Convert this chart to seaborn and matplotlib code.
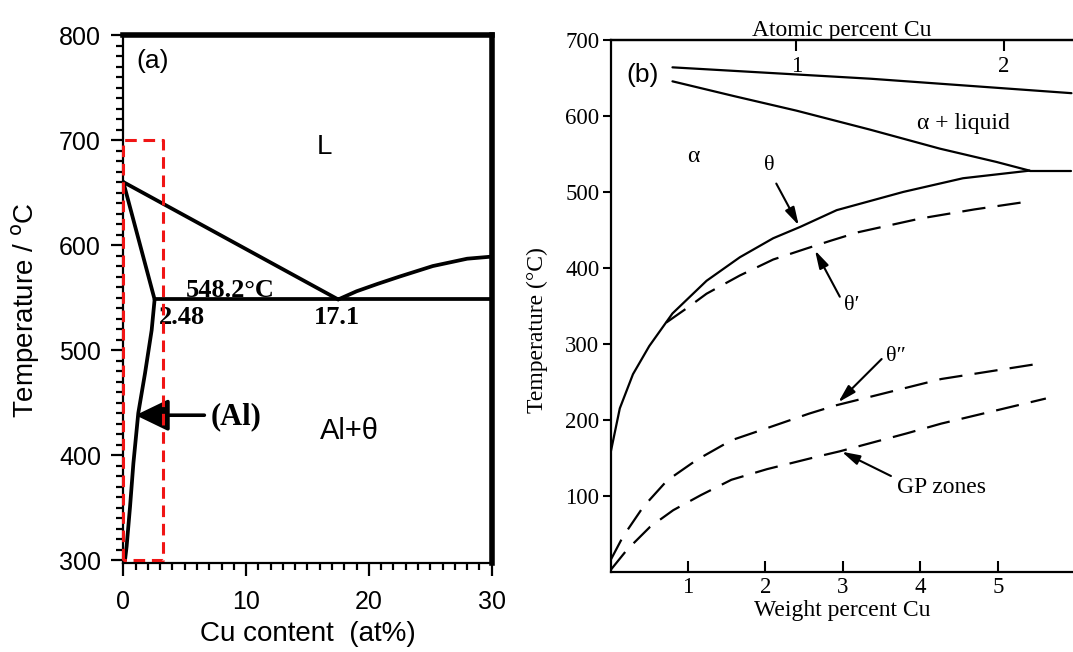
import matplotlib
matplotlib.use("Agg")
import matplotlib.pyplot as plt
import seaborn as sns
from matplotlib.ticker import MultipleLocator

# ---------------- Panel (a): Al-Cu phase diagram (at% Cu, deg C) ----------------
a_liq1_x = [0.0, 17.5]
a_liq1_y = [660.0, 548.2]
a_liq2_x = [17.5, 19.0, 20.7, 22.5, 25.2, 28.0, 30.0]
a_liq2_y = [548.2, 556, 563, 570, 580, 587, 589]
a_solidus_x = [0.0, 2.55]
a_solidus_y = [660.0, 548.2]
a_solvus_x = [2.55, 2.31, 1.77, 1.22, 0.82, 0.55, 0.27, 0.14]
a_solvus_y = [548.2, 519, 478, 440, 392, 351, 313, 300]
a_eut_x = [2.55, 30.0]
a_eut_y = [548.2, 548.2]
a_box_x = [0.0, 0.0, 3.25, 3.25, 0.0]
a_box_y = [300, 700, 700, 300, 300]
a_xticks = [0, 10, 20, 30]
a_yticks = [300, 400, 500, 600, 700, 800]

# ---------------- Panel (b): metastable solvus lines (wt% Cu, deg C) ----------------
b_liq_x = [0.8, 3.36, 5.95]
b_liq_y = [664, 649, 630]
b_sol_x = [0.8, 1.6, 2.40, 3.35, 4.25, 4.98, 5.41]
b_sol_y = [645.6, 626, 607, 582, 557, 539.5, 528]
b_eut_x = [5.41, 5.95]
b_eut_y = [528, 528]
b_theta_x = [0.0, 0.12, 0.29, 0.5, 0.8, 1.24, 1.67, 2.10, 2.45, 2.92, 3.78, 4.55, 5.41]
b_theta_y = [156, 215, 260, 297, 340, 383, 414, 439, 454, 476, 500, 518, 528]
b_thp_x = [0.72, 1.0, 1.24, 1.67, 2.10, 2.53, 2.85, 3.2, 4.0, 4.7, 5.37]
b_thp_y = [328, 348, 366, 390, 411, 425.5, 436, 447, 465, 477, 487]
b_thpp_x = [0.0, 0.16, 0.42, 0.73, 1.11, 1.56, 2.02, 2.56, 2.91, 3.37, 4.27, 5.57]
b_thpp_y = [15, 46, 85, 120, 147, 173, 189, 208, 219, 230.7, 253.7, 274.5]
b_gp_x = [0.0, 0.21, 0.51, 0.81, 1.17, 1.56, 2.02, 2.69, 2.96, 3.82, 4.27, 4.72, 5.62]
b_gp_y = [2, 28.5, 59, 81, 101, 121, 135, 152, 158.5, 182, 195, 206, 228]
b_xticks = [1, 2, 3, 4, 5]
b_yticks = [100, 200, 300, 400, 500, 600, 700]
b_top_pos = [2.40, 5.08]
b_top_labels = ["1", "2"]

sns.set_theme(style="ticks")
plt.rcParams["font.family"] = ["Liberation Sans", "DejaVu Sans"]
plt.rcParams.update({"text.color": "black", "axes.labelcolor": "black",
                     "xtick.color": "black", "ytick.color": "black",
                     "axes.edgecolor": "black"})
SERIF = ["Liberation Serif", "DejaVu Serif"]
SANS = ["Liberation Sans", "DejaVu Sans"]

fig = plt.figure(figsize=(10.73, 6.52), dpi=100)
fig.patch.set_facecolor("white")
axA = fig.add_axes([123.3 / 1073, (652 - 563.3) / 652, 368.4 / 1073, 528.3 / 652])
axB = fig.add_axes([610.5 / 1073, (652 - 571.7) / 652, 462.5 / 1073, 531.7 / 652])
for ax in (axA, axB):
    ax.set_facecolor("white")


def draw(ax, xs, ys, lw, color="black", dashes=None):
    sns.lineplot(x=xs, y=ys, ax=ax, color=color, lw=lw, sort=False,
                 estimator=None, errorbar=None)
    ln = ax.lines[-1]
    ln.set_solid_joinstyle("round")
    if dashes is not None:
        ln.set_dashes(dashes)
    return ln


# ---------- Panel (a) ----------
LWA = 2.7
draw(axA, a_liq1_x, a_liq1_y, LWA)
draw(axA, a_liq2_x, a_liq2_y, LWA)
draw(axA, a_solidus_x, a_solidus_y, LWA)
draw(axA, a_solvus_x, a_solvus_y, LWA)
draw(axA, a_eut_x, a_eut_y, LWA)
box = draw(axA, a_box_x, a_box_y, 2.2, color="#f01515", dashes=(3.8, 2.2))
box.set_clip_on(False)
box.set_zorder(5)

axA.set_xlim(0, 30)
axA.set_ylim(297, 800)
axA.set_xticks(a_xticks)
axA.set_yticks(a_yticks)
axA.xaxis.set_minor_locator(MultipleLocator(1))
axA.yaxis.set_minor_locator(MultipleLocator(10))
axA.tick_params(axis="both", which="major", direction="out", length=9, width=1.6,
                colors="black", labelsize=18, labelcolor="black")
axA.tick_params(axis="both", which="minor", direction="out", length=5, width=1.6,
                colors="black")
axA.tick_params(axis="y", which="major", pad=7)
axA.tick_params(axis="x", which="major", pad=10)
for s in ("left", "bottom"):
    axA.spines[s].set_linewidth(1.6)
for s in ("top", "right"):
    axA.spines[s].set_linewidth(4.0)
for s in axA.spines.values():
    s.set_color("black")
axA.set_xlabel("Cu content  (at%)", fontsize=20, color="black", labelpad=5)
axA.set_ylabel("Temperature / $^{\\mathrm{o}}$C", fontsize=20, color="black")
axA.yaxis.set_label_coords(-0.222, 0.48)

axA.text(2.38, 775, "(a)", fontsize=19, ha="center", va="center", family=SANS)
axA.text(16.4, 693, "L", fontsize=20, ha="center", va="center", family=SANS)
axA.text(8.75, 557, "548.2°C", fontsize=19, fontweight="bold", ha="center",
         va="center", family=SERIF)
axA.text(4.8, 531, "2.48", fontsize=19, fontweight="bold", ha="center",
         va="center", family=SERIF)
axA.text(17.4, 531, "17.1", fontsize=19, fontweight="bold", ha="center",
         va="center", family=SERIF)
axA.text(9.2, 437, "(Al)", fontsize=22, fontweight="bold", ha="center",
         va="center", family=SERIF)
axA.text(18.4, 423, "Al+θ", fontsize=21, ha="center", va="center", family=SANS)
axA.annotate("", xy=(1.0, 438), xytext=(6.6, 438),
             arrowprops=dict(arrowstyle="-|>,head_length=1.45,head_width=0.7",
                             mutation_scale=14, lw=2.6, color="black",
                             shrinkA=0, shrinkB=0))

# ---------- Panel (b) ----------
LWB = 1.6
DASH = (10.5, 5.5)
draw(axB, b_liq_x, b_liq_y, LWB)
draw(axB, b_sol_x, b_sol_y, LWB)
draw(axB, b_eut_x, b_eut_y, LWB)
draw(axB, b_theta_x, b_theta_y, LWB)
draw(axB, b_thp_x, b_thp_y, LWB, dashes=DASH)
draw(axB, b_thpp_x, b_thpp_y, LWB, dashes=DASH)
draw(axB, b_gp_x, b_gp_y, LWB, dashes=DASH)

axB.set_xlim(0, 5.97)
axB.set_ylim(0, 700)
axB.set_xticks(b_xticks)
axB.set_yticks(b_yticks)
axB.tick_params(axis="y", direction="out", length=6, width=1.5, colors="black",
                labelsize=16.5, labelcolor="black", pad=2,
                labelfontfamily="Liberation Serif")
axB.tick_params(axis="x", direction="in", length=8, width=1.5, colors="black",
                labelsize=16.5, labelcolor="black", pad=4,
                labelfontfamily="Liberation Serif")
axB.spines["right"].set_visible(False)
for s in ("left", "bottom", "top"):
    axB.spines[s].set_linewidth(1.6)
    axB.spines[s].set_color("black")
axB.set_xlabel("Weight percent Cu", fontsize=17, family=SERIF, color="black", labelpad=1)
axB.set_ylabel("Temperature (°C)", fontsize=17, family=SERIF, color="black")
axB.yaxis.set_label_coords(-0.135, 0.455)

sec = axB.secondary_xaxis("top")
sec.set_xticks(b_top_pos, labels=b_top_labels)
sec.tick_params(axis="x", direction="in", length=8, width=1.5, colors="black",
                labelsize=16.5, labelcolor="black", pad=-27,
                labelfontfamily="Liberation Serif")
sec.spines["top"].set_linewidth(1.6)
sec.set_xlabel("Atomic percent Cu", fontsize=17, family=SERIF, color="black", labelpad=3)

axB.text(0.41, 654, "(b)", fontsize=19, ha="center", va="center", family=SANS)
axB.text(1.07, 547, "α", fontsize=17, ha="center", va="center", family=SERIF)
axB.text(4.56, 590, "α + liquid", fontsize=17, ha="center", va="center", family=SERIF)
axB.text(2.05, 535, "θ", fontsize=16, ha="center", va="center", family=SERIF)
axB.text(3.12, 350, "θ′", fontsize=16, ha="center", va="center", family=SERIF)
axB.text(3.68, 283, "θ″", fontsize=16, ha="center", va="center", family=SERIF)
axB.text(4.27, 111, "GP zones", fontsize=17, ha="center", va="center", family=SERIF)

arrow_kw = dict(arrowstyle="-|>,head_length=0.9,head_width=0.25",
                mutation_scale=12, lw=1.5, color="black", shrinkA=0, shrinkB=0)
axB.annotate("", xy=(2.43, 456), xytext=(2.14, 511), arrowprops=arrow_kw)
axB.annotate("", xy=(2.64, 423), xytext=(2.96, 362), arrowprops=arrow_kw)
axB.annotate("", xy=(2.94, 223), xytext=(3.50, 280), arrowprops=arrow_kw)
axB.annotate("", xy=(2.985, 158), xytext=(3.62, 126), arrowprops=arrow_kw)

fig.savefig("out.png", dpi=100, facecolor="white")
